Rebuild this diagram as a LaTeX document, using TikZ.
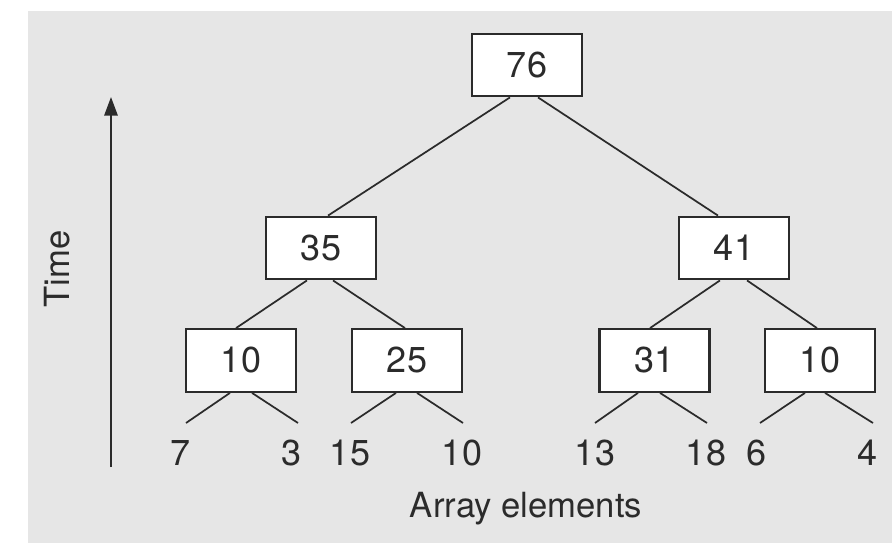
\documentclass[tikz,border=0pt]{standalone}
\usepackage{fontspec}
\setmainfont{TeX Gyre Heros}
\usetikzlibrary{arrows.meta,calc}
\definecolor{panel}{HTML}{E6E6E6}
\definecolor{ink}{HTML}{2B2B2B}
\tikzset{
  sumbox/.style={draw=ink, fill=white, line width=1.6pt, minimum width=82.5pt,
    minimum height=47pt, inner sep=0pt, font=\fontsize{27}{30}\selectfont, text=ink},
  leaf/.style={anchor=base, inner sep=0pt, font=\fontsize{27}{30}\selectfont, text=ink},
  axislabel/.style={inner sep=0pt, font=\fontsize{26}{30}\selectfont, text=ink},
  edge/.style={draw=ink, line width=1.3pt},
}
\begin{document}
\begin{tikzpicture}[x=0.75pt, y=-0.75pt]
  % canvas and grey panel
  \useasboundingbox (0,0) rectangle (894,543);
  \fill[white] (0,0) rectangle (894,543);
  \fill[panel] (28,11) rectangle (892,543);

  % time axis
  \coordinate (tbot) at (111,467);
  \coordinate (ttop) at (111,97);
  \draw[edge, line width=1.5pt, -{Triangle[length=14pt,width=10pt]}] (tbot) -- (ttop);
  \node[axislabel, rotate=90] (time) at (57,269) {Time};
  \node[axislabel, anchor=base] (arr) at (526,517) {Array elements};

  % partial sums
  \node[sumbox] (s76) at (527,65) {76};
  \node[sumbox] (s35) at (321,248) {35};
  \node[sumbox] (s41) at (734,248) {41};
  \node[sumbox] (s10a) at (241,360.5) {10};
  \node[sumbox] (s25) at (407,360.5) {25};
  \node[sumbox] (s31) at (654.5,360.5) {31};
  \node[sumbox] (s10b) at (820,360.5) {10};

  % array elements
  \node[leaf] (e1) at (181,465) {7};
  \node[leaf] (e2) at (292,465) {3};
  \node[leaf] (e3) at (350,465) {15};
  \node[leaf] (e4) at (462,465) {10};
  \node[leaf] (e5) at (595,465) {13};
  \node[leaf] (e6) at (706,465) {18};
  \node[leaf] (e7) at (757,465) {6};
  \node[leaf] (e8) at (868,465) {4};

  % upper ends of the leaf strokes
  \coordinate (l1) at (186,423);
  \coordinate (l2) at (298,423);
  \coordinate (l3) at (351,423);
  \coordinate (l4) at (463,423);
  \coordinate (l5) at (595,423);
  \coordinate (l6) at (707,423);
  \coordinate (l7) at (760,423);
  \coordinate (l8) at (873,423);

  % tree edges
  \draw[edge] ($(s76.south)+(-17,0)$) -- ($(s35.north)+(7,0)$);
  \draw[edge] ($(s76.south)+(11,0)$) -- ($(s41.north)+(-16,0)$);
  \draw[edge] ($(s35.south)+(-14,0)$) -- ($(s10a.north)+(-5,0)$);
  \draw[edge] ($(s35.south)+(12,0)$) -- ($(s25.north)+(-2,0)$);
  \draw[edge] ($(s41.south)+(-14,0)$) -- ($(s31.north)+(-4.5,0)$);
  \draw[edge] ($(s41.south)+(13,0)$) -- ($(s10b.north)+(-3,0)$);

  \draw[edge] ($(s10a.south)+(-11,0)$) -- (l1);
  \draw[edge] ($(s10a.south)+(11,0)$) -- (l2);
  \draw[edge] ($(s25.south)+(-11,0)$) -- (l3);
  \draw[edge] ($(s25.south)+(10,0)$) -- (l4);
  \draw[edge] ($(s31.south)+(-16.5,0)$) -- (l5);
  \draw[edge] ($(s31.south)+(5.5,0)$) -- (l6);
  \draw[edge] ($(s10b.south)+(-15,0)$) -- (l7);
  \draw[edge] ($(s10b.south)+(5,0)$) -- (l8);
\end{tikzpicture}
\end{document}
